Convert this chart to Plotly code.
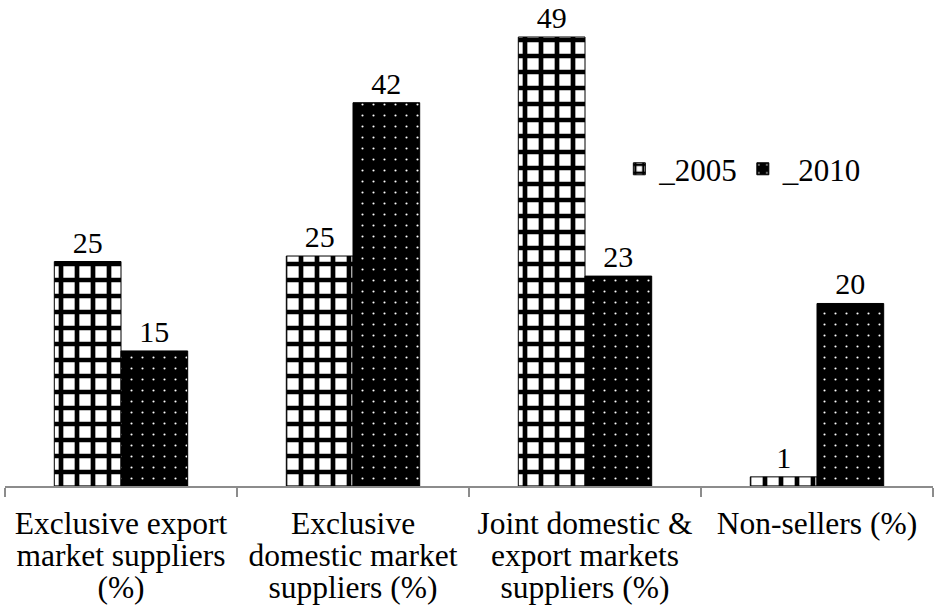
import plotly.graph_objects as go

categories = [
    "Exclusive export<br>market suppliers<br>(%)",
    "Exclusive<br>domestic market<br>suppliers (%)",
    "Joint domestic &<br>export markets<br>suppliers (%)",
    "Non-sellers (%)",
]
series_2005 = [24.6, 25.2, 49.2, 1.0]
series_2010 = [14.8, 42.0, 23.0, 20.0]
series_names = ["_2005", "_2010"]

FONT = "Liberation Serif"
BIG = 31
LABEL = 30
TICK = 31.5

ticktext = ["<br>".join(f"<span style='font-size:{TICK}px'>{ln}</span>" for ln in c.split("<br>"))
            for c in categories]

fig = go.Figure()
fig.add_trace(go.Bar(
    name=series_names[0], x=categories, y=series_2005,
    texttemplate="%{y:.0f}", textposition="outside", cliponaxis=False,
    textfont=dict(family=FONT, size=LABEL, color="black"),
    marker=dict(color="white", line=dict(color="black", width=1),
                pattern=dict(shape="+", fgcolor="black", bgcolor="white", fgopacity=1,
                             size=16, solidity=0.5, fillmode="replace")),
))
fig.add_trace(go.Bar(
    name=series_names[1], x=categories, y=series_2010,
    texttemplate="%{y:.0f}", textposition="outside", cliponaxis=False,
    textfont=dict(family=FONT, size=LABEL, color="black"),
    marker=dict(color="black", line=dict(color="black", width=1),
                pattern=dict(shape=".", fgcolor="white", bgcolor="black", fgopacity=1,
                             size=11, solidity=0.03, fillmode="replace")),
))
fig.update_layout(
    width=935, height=614,
    margin=dict(l=5, r=2, t=0, b=128, autoexpand=False),
    paper_bgcolor="white", plot_bgcolor="white",
    barmode="group", bargap=0.425, bargroupgap=0,
    font=dict(family=FONT, size=BIG, color="black"),
    showlegend=True,
    legend=dict(orientation="h", x=0.662, y=0.652, xanchor="left", yanchor="middle",
                font=dict(family=FONT, size=BIG), bgcolor="rgba(0,0,0,0)",
                itemwidth=30, tracegroupgap=0),
)
fig.update_xaxes(
    showline=True, linecolor="#8c8c8c", linewidth=1.5,
    ticks="outside", tickson="boundaries", ticklen=9, tickcolor="#8c8c8c", tickwidth=1.5,
    tickmode="array", tickvals=categories, ticktext=ticktext, tickangle=0,
    tickfont=dict(family=FONT, size=32 / 1.3, color="black"),
    ticklabelstandoff=17, automargin=False,
    showgrid=False,
)
fig.update_yaxes(range=[0, 486 / 9.126], visible=False, showgrid=False)
fig.write_html("out.html", config={"displayModeBar": False},
               post_script="document.body.style.margin='0';")
